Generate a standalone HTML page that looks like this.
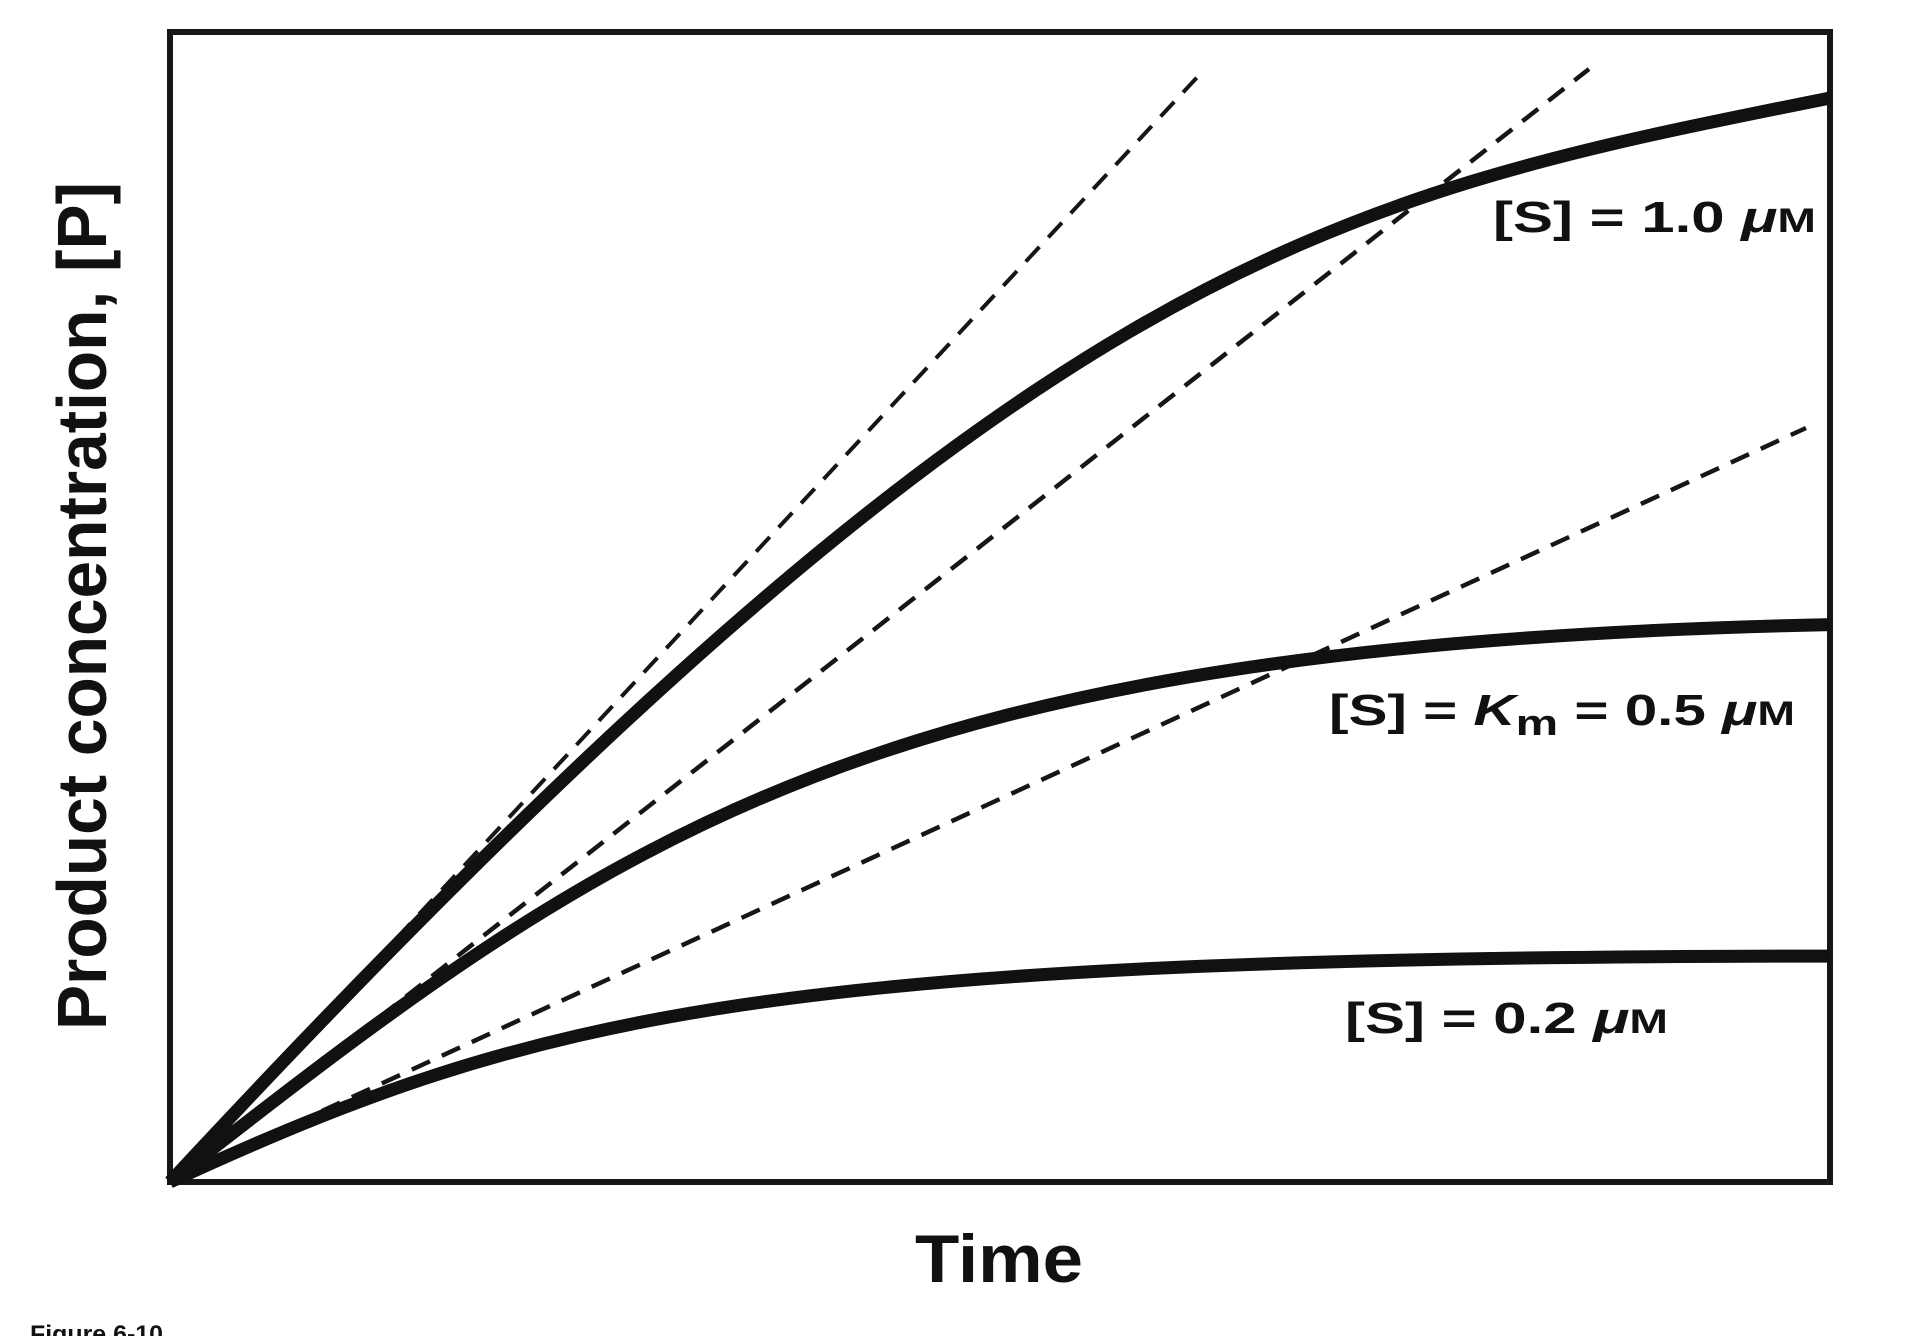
<!DOCTYPE html>
<html><head><meta charset="utf-8"><style>
html,body{margin:0;padding:0;background:#fff;}
svg{display:block;}
text{font-family:"Liberation Sans",sans-serif;font-weight:bold;fill:#111;}
</style></head><body>
<svg width="1906" height="1336" viewBox="0 0 1906 1336" xmlns="http://www.w3.org/2000/svg">
<rect x="170" y="32" width="1660" height="1150" fill="none" stroke="#161616" stroke-width="6"/>
<g stroke="#161616" stroke-width="4.5" fill="none" stroke-dasharray="20,13">
<line x1="172" y1="1180" x2="1202" y2="72" stroke-width="4"/>
<line x1="172" y1="1180" x2="1589" y2="69"/>
<line x1="172" y1="1180" x2="1806" y2="428"/>
</g>
<g stroke="#111" stroke-width="13" fill="none">
<path d="M170,1182 C1030,255 1320,200 1830,98"/>
<path d="M170,1182 C625.2,824.8 877.2,644.4 1830,624.6"/>
<path d="M170,1182 C540.5,1011.1 771.3,956.1 1830,956.1"/>
</g>
<text x="1493" y="232" font-size="44" textLength="323" lengthAdjust="spacingAndGlyphs">[S] = 1.0 <tspan font-style="italic">μ</tspan><tspan font-size="34">M</tspan></text>
<text x="1329" y="725" font-size="44" textLength="466" lengthAdjust="spacingAndGlyphs">[S] = <tspan font-style="italic">K</tspan><tspan font-size="36" dy="10">m</tspan><tspan dy="-10"> = 0.5 </tspan><tspan font-style="italic">μ</tspan><tspan font-size="34">M</tspan></text>
<text x="1345" y="1033" font-size="44" textLength="323" lengthAdjust="spacingAndGlyphs">[S] = 0.2 <tspan font-style="italic">μ</tspan><tspan font-size="34">M</tspan></text>
<text x="915" y="1282" font-size="68" textLength="168" lengthAdjust="spacingAndGlyphs">Time</text>
<text transform="translate(106,1030) rotate(-90)" x="0" y="0" font-size="70" textLength="848" lengthAdjust="spacingAndGlyphs">Product concentration, [P]</text>
<text x="30" y="1342" font-size="24" textLength="133" lengthAdjust="spacingAndGlyphs">Figure 6-10</text>
</svg>
</body></html>
